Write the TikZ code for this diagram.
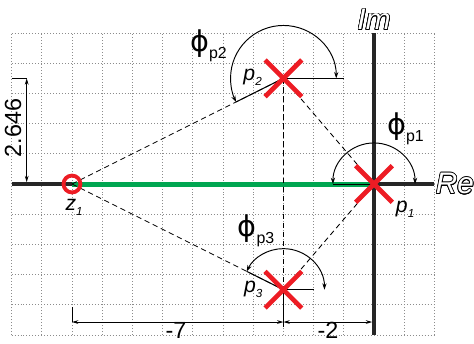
\documentclass[tikz,border=0pt]{standalone}
\usepackage{fontspec}
\setmainfont{Liberation Sans}
\newfontfamily\phifont{DejaVu Sans}
\usepackage{contour}
\contourlength{0.7pt}
\usepackage{tikz}
\usetikzlibrary{arrows.meta, calc, shapes.misc}
\definecolor{polered}{HTML}{ED1C24}
\definecolor{locusgreen}{HTML}{00A651}
\definecolor{gridgray}{HTML}{8C8C8C}

\tikzset{
  gridline/.style={gridgray, line width=0.8pt, dotted},
  axis/.style={line width=3.2pt, black!85},
  pole/.style={cross out, draw=polered, line width=4.4pt, minimum size=1.06cm, inner sep=0pt},
  zero/.style={circle, draw=polered, line width=3.6pt, minimum size=0.56cm, inner sep=0pt},
  dashline/.style={line width=0.8pt, dash pattern=on 5pt off 3.5pt},
  ray/.style={line width=0.9pt},
  angarc/.style={line width=0.9pt, {Stealth[length=6pt,width=4pt]}-{Stealth[length=6pt,width=4pt]}},
  dimline/.style={line width=0.8pt, {Stealth[length=6pt,width=3.5pt]}-{Stealth[length=6pt,width=3.5pt]}},
  plabel/.style={font=\fontsize{20}{22}\selectfont, inner sep=0pt},
  philabel/.style={font=\fontsize{27}{30}\selectfont, inner sep=0pt},
  dimlabel/.style={font=\fontsize{22}{24}\selectfont, inner sep=0pt},
  axlabel/.style={font=\fontsize{28}{30}\selectfont\itshape, text=white, inner sep=0pt}
}
\newcommand{\sublbl}[2]{\textit{#1}\raisebox{-4.7pt}{\fontsize{11}{11}\selectfont\textit{#2}}}
\newcommand{\philbl}[1]{{\phifont ϕ}\raisebox{-6.5pt}{\fontsize{15}{15}\selectfont #1}}

\begin{document}
\begin{tikzpicture}
  \useasboundingbox (-12.384,-5.265) rectangle (3.311,6.093);
  % grid and axes
  \draw[gridline] (-12,-5) grid (2,5);
  \draw[axis] (-12,0) -- (2,0);
  \draw[axis] (0,-5) -- (0,5);
  \node[axlabel] (re) at (2.68,0) {\contour{black}{Re}};
  \node[axlabel] (im) at (0,5.43) {\contour{black}{Im}};

  \coordinate (p1c) at (0,0);
  \coordinate (p2c) at (-3,3.5);
  \coordinate (p3c) at (-3,-3.5);
  \coordinate (z1c) at (-10,0);

  % root locus on the real axis
  \draw[locusgreen, line width=4.7pt] (z1c) -- (p1c);

  % vectors to the test point
  \draw[dashline] (z1c) -- (p2c);
  \draw[dashline] (z1c) -- (p3c);
  \draw[dashline] (p2c) -- (p1c);
  \draw[dashline] (p3c) -- (p1c);
  \draw[dashline] (p2c) -- (p3c);

  % angles
  \draw[ray] (p1c) -- ++(-1.36,0);
  \draw[angarc] ($(p1c)+(1.36,0)$) arc[start angle=0, end angle=180, radius=1.36];
  \draw[ray] (p2c) -- ++(2,0);
  \draw[ray] (p2c) -- ($(p2c)!1.75cm!(z1c)$);
  \draw[angarc] ($(p2c)+(1.75,0)$) arc[start angle=0, end angle=206.57, radius=1.75];
  \draw[ray] (p3c) -- ++(1,0);
  \draw[ray] (p3c) -- ($(p3c)!1.36cm!(z1c)$);
  \draw[angarc] ($(p3c)+(1.36,0)$) arc[start angle=0, end angle=153.43, radius=1.36];

  % dimensions
  \coordinate (dimtop) at (-11.5,3.5);
  \coordinate (dimbot) at (-11.5,0.06);
  \draw[ray] (-12,3.5) -- (dimtop);
  \draw[dimline] (dimtop) -- (dimbot);
  \node[dimlabel, rotate=90] (dimv) at (-11.95,1.85) {2.646};
  \coordinate (dimz) at (-10,-4.57);
  \coordinate (dimp) at (-3,-4.57);
  \coordinate (dimo) at (-0.06,-4.57);
  \draw[ray] (-10,-4.07) -- (dimz);
  \draw[ray] (p3c) -- (-3,-4.75);
  \draw[dimline] (dimz) -- (dimp);
  \draw[dimline] (dimp) -- (dimo);
  \node[dimlabel] (dimseven) at (-6.56,-4.85) {-7};
  \node[dimlabel] (dimtwo) at (-1.52,-4.85) {-2};

  % poles and zero
  \node[pole] (p1) at (p1c) {};
  \node[pole] (p2) at (p2c) {};
  \node[pole] (p3) at (p3c) {};
  \node[zero] (z1) at (z1c) {};

  \node[plabel] (p1l) at (1.03,-0.83) {\sublbl{p}{1}};
  \node[plabel] (p2l) at (-4.02,3.54) {\sublbl{p}{2}};
  \node[plabel] (p3l) at (-4.0,-3.49) {\sublbl{p}{3}};
  \node[plabel] (z1l) at (-9.93,-0.76) {\sublbl{z}{1}};
  \node[philabel] (phi1) at (1.04,1.82) {\philbl{p1}};
  \node[philabel] (phi2) at (-5.48,4.57) {\philbl{p2}};
  \node[philabel] (phi3) at (-3.91,-1.56) {\philbl{p3}};
\end{tikzpicture}
\end{document}
